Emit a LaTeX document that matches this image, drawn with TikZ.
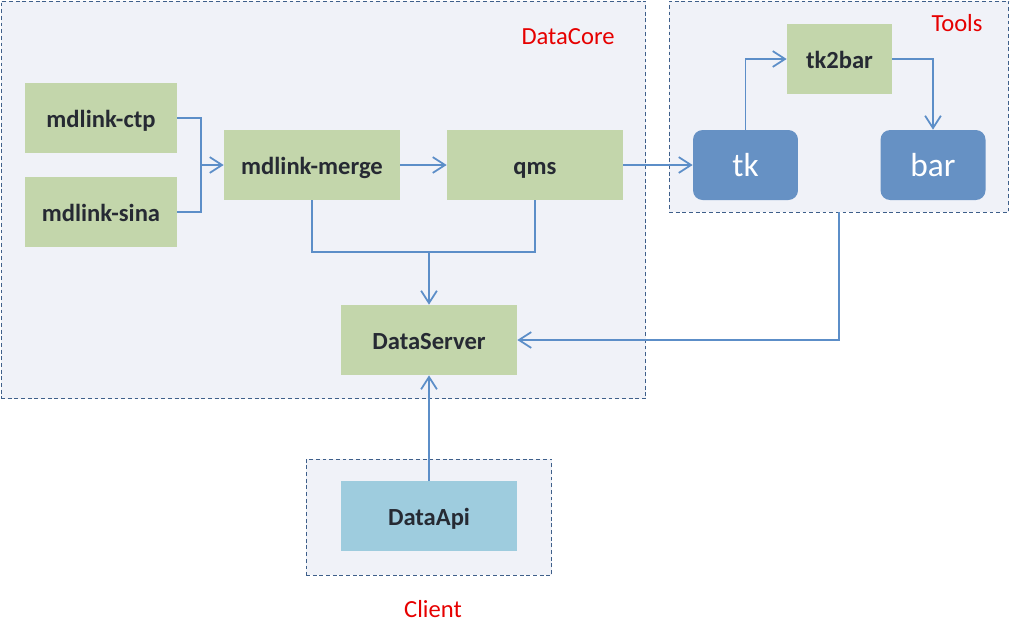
\documentclass[tikz,border=0pt]{standalone}
\usepackage{fontspec}
\setmainfont{Carlito}
\usetikzlibrary{arrows.meta}
\definecolor{boxgreen}{RGB}{195,214,171}
\definecolor{boxblue}{RGB}{102,145,196}
\definecolor{boxcyan}{RGB}{158,204,222}
\definecolor{framefill}{RGB}{240,242,248}
\definecolor{frameline}{RGB}{62,95,138}
\definecolor{linkblue}{RGB}{92,142,200}
\definecolor{labeltext}{RGB}{38,42,51}
\definecolor{titlered}{RGB}{230,0,0}
\tikzset{
  frame/.style={draw=frameline, fill=framefill, line width=0.55pt,
    dash pattern=on 2.2pt off 1.6pt, inner sep=0pt},
  greenbox/.style={fill=boxgreen, minimum width=3.52cm, minimum height=1.4cm,
    font=\fontsize{14}{16}\selectfont\bfseries, text=labeltext,
    text height=12pt, text depth=1.5pt},
  apibox/.style={greenbox, fill=boxcyan},
  toolbox/.style={fill=boxblue, rounded corners=5.5pt, minimum width=2.1cm,
    minimum height=1.4cm, font=\fontsize{19}{22}\selectfont, text=white,
    text height=16pt, text depth=2.5pt},
  title/.style={font=\fontsize{14}{16}\selectfont, text=titlered},
  link/.style={draw=linkblue, line width=1pt},
  linkarrow/.style={link, -{Straight Barb[length=7pt,width=9pt]}}
}
\begin{document}
\begin{tikzpicture}[x=0.02cm, y=-0.02cm]
	%%%%% START %%%%%
	\useasboundingbox (0,0) rectangle (1011,633);
	
	% groups
	\node[frame, minimum width=12.9cm, minimum height=7.96cm] (core) at (323.5,200) {};
	\node[frame, minimum width=6.8cm, minimum height=4.22cm] (tools) at (839,106.5) {};
	\node[frame, minimum width=4.92cm, minimum height=2.32cm] (client) at (429,517) {};
	
	\node[title] (coretitle) at (568,37) {DataCore};
	\node[title] (toolstitle) at (957,23) {Tools};
	\node[title] (clienttitle) at (433,609) {Client};
	
	% boxes
	\node[greenbox, minimum width=3.04cm] (ctp) at (101,118) {mdlink-ctp};
	\node[greenbox, minimum width=3.04cm] (sina) at (101,212) {mdlink-sina};
	\node[greenbox] (merge) at (312,165) {mdlink-merge};
	\node[greenbox] (qms) at (535,165) {qms};
	\node[greenbox] (server) at (429,340) {DataServer};
	\node[apibox] (api) at (429,516) {DataApi};
	
	\node[toolbox] (tk) at (745.5,165) {tk};
	\node[toolbox] (bar) at (933,165) {bar};
	\node[greenbox, minimum width=2.1cm] (tk2bar) at (839.5,59) {tk2bar};
	
	% links
	\coordinate (join) at (201,165);
	\draw[link] (ctp.east) -| (join);
	\draw[link] (sina.east) -| (join);
	\draw[linkarrow] (join) -- (merge.west);
	\draw[linkarrow] (merge.east) -- (qms.west);
	\draw[linkarrow] (qms.east) -- (tk.west);
	
	\draw[linkarrow] (tk.north) |- (tk2bar.west);
	\draw[linkarrow] (tk2bar.east) -| (bar.north);
	
	\coordinate (collect) at (429,252);
	\draw[link] (merge.south) |- (collect);
	\draw[link] (qms.south) |- (collect);
	\draw[linkarrow] (collect) -- (server.north);
	
	\draw[linkarrow] (tools.south) |- (server.east);
	\draw[linkarrow] (api.north) -- (server.south);
	
	%%%%% END %%%%%
\end{tikzpicture}
\end{document}
